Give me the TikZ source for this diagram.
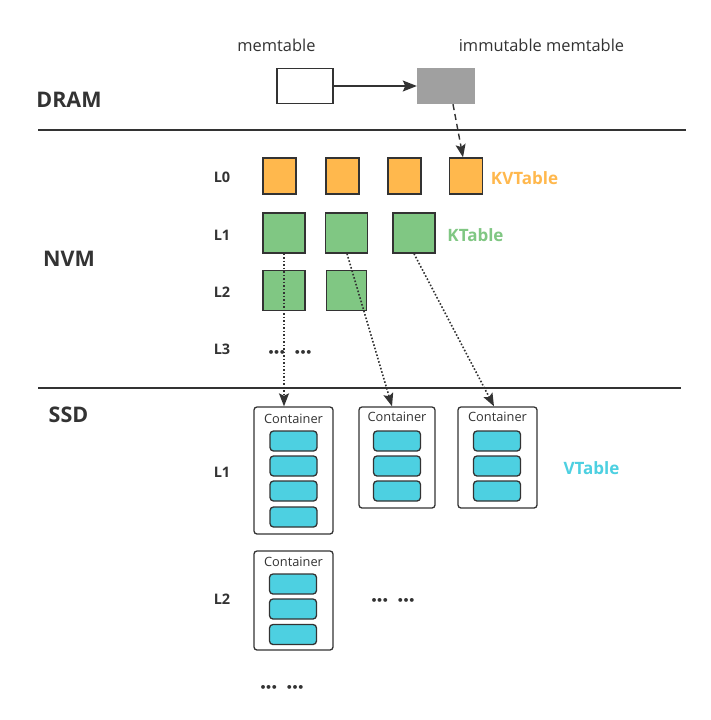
\documentclass[tikz,border=0pt]{standalone}
\usepackage{fontspec}
\setmainfont{Open Sans}
\newfontfamily\dotfont{DejaVu Sans}
\usetikzlibrary{arrows.meta,calc}
\definecolor{ink}{HTML}{333333}
\definecolor{kvorange}{HTML}{FFB84D}
\definecolor{kgreen}{HTML}{80C783}
\definecolor{vcyan}{HTML}{4DD0E1}
\definecolor{memgray}{HTML}{A0A0A0}
\tikzset{
  tier/.style={font=\fontsize{21.5}{23}\selectfont\bfseries, text=ink},
  lvl/.style={font=\fontsize{14.5}{16}\selectfont\bfseries, text=ink},
  captext/.style={font=\fontsize{16.4}{18}\selectfont, text=ink},
  kvbox/.style={draw=ink, line width=1.4pt, fill=kvorange, minimum width=33pt, minimum height=36pt, inner sep=0pt},
  kbox/.style={draw=ink, line width=1.4pt, fill=kgreen, minimum width=42pt, minimum height=40pt, inner sep=0pt},
  cont/.style={draw=ink, line width=1.3pt, fill=white, rounded corners=3pt, inner sep=0pt},
  vblk/.style={draw=ink, line width=1.3pt, fill=vcyan, rounded corners=3.5pt, minimum width=47pt, minimum height=20pt, inner sep=0pt},
  ctext/.style={font=\fontsize{12.8}{14}\selectfont, text=ink},
  dotstext/.style={font=\dotfont\bfseries\fontsize{11}{12}\selectfont, text=ink},
  sep/.style={draw=ink, line width=1.5pt},
  solidarrow/.style={draw=ink, line width=1.4pt, -{Stealth[length=14pt,width=11pt,inset=2.5pt]}},
  dasharrow/.style={draw=ink, line width=1.4pt, dash pattern=on 6pt off 4pt, -{Stealth[length=13pt,width=10pt,inset=2.5pt]}},
  dotarrow/.style={draw=ink, line width=1.6pt, dash pattern=on 1.6pt off 1.9pt, -{Stealth[length=13pt,width=10pt,inset=2.5pt]}},
  lbl/.style={font=\fontsize{17}{19}\selectfont\bfseries}
}
\newcommand{\dotsrow}{•\kern-1.3pt•\kern-1.3pt•\hspace{8pt}•\kern-1.3pt•\kern-1.3pt•}
\begin{document}
\begin{tikzpicture}[x=1pt,y=-1pt]
\useasboundingbox[fill=white] (0,0) rectangle (711,720);

% separators
\coordinate (s1a) at (38,130); \coordinate (s1b) at (686,130);
\coordinate (s2a) at (38,388); \coordinate (s2b) at (681,388);
\draw[sep] (s1a) -- (s1b);
\draw[sep] (s2a) -- (s2b);

% tier labels
\node[tier] (dram) at (69,100) {DRAM};
\node[tier] (nvm) at (69,259) {NVM};
\node[tier] (ssd) at (68.5,415) {SSD};

% DRAM
\node[captext] (memlbl) at (276.5,45) {memtable};
\node[captext] (immlbl) at (541.5,45) {immutable memtable};
\node[draw=ink, line width=1.4pt, fill=white, minimum width=56pt, minimum height=35pt, inner sep=0pt] (mem) at (305,86) {};
\node[fill=memgray, minimum width=58pt, minimum height=36pt, inner sep=0pt] (imm) at (446,86) {};
\draw[solidarrow] (mem.east) -- (imm.west);

% NVM level labels
\node[lvl] (nl0) at (222,177) {L0};
\node[lvl] (nl1) at (222,235) {L1};
\node[lvl] (nl2) at (222,292) {L2};
\node[lvl] (nl3) at (222,349) {L3};

% L0
\node[kvbox] (a1) at (279.5,176) {};
\node[kvbox] (a2) at (342.5,176) {};
\node[kvbox] (a3) at (404.5,176) {};
\node[kvbox] (a4) at (466,176) {};
\node[lbl, text=kvorange] (kvt) at (524.5,178) {KVTable};

% L1
\node[kbox] (b1) at (284,233) {};
\node[kbox] (b2) at (346.5,233) {};
\node[kbox] (b3) at (414,233) {};
\node[lbl, text=kgreen] (kt) at (475.5,235) {KTable};

% L2
\node[kbox] (c1) at (284,290.5) {};
\node[kbox, minimum width=40pt] (c2) at (346.5,290.5) {};

% L3
\node[dotstext] (d3) at (290,353) {\dotsrow};

\draw[dasharrow] (imm.south) ++(7,0) -- ($(a4.north)+(-3,0)$);

% SSD level labels
\node[lvl] (sl1) at (222,472) {L1};
\node[lvl] (sl2) at (222,599) {L2};

% containers
\node[cont, minimum width=79pt, minimum height=127pt] (k1) at (293.5,470.5) {};
\node[ctext] at (293.5,419) {Container};
\foreach \yy [count=\i] in {441,466,491,517} \node[vblk] (k1v\i) at (293.5,\yy) {};

\node[cont, minimum width=76pt, minimum height=101pt] (k2) at (397,457.5) {};
\node[ctext] at (397,417) {Container};
\foreach \yy [count=\i] in {441,466,491} \node[vblk] (k2v\i) at (397,\yy) {};

\node[cont, minimum width=79pt, minimum height=101pt] (k3) at (497.5,457.5) {};
\node[ctext] at (497.5,417) {Container};
\foreach \yy [count=\i] in {441,466,491} \node[vblk] (k3v\i) at (497,\yy) {};

\node[lbl, text=vcyan] (vt) at (591.5,468) {VTable};

\node[cont, minimum width=79pt, minimum height=99pt] (k4) at (293.5,600.5) {};
\node[ctext] at (293.5,562) {Container};
\foreach \yy [count=\i] in {584,609,634.5} \node[vblk] (k4v\i) at (293,\yy) {};

\node[dotstext] (d4) at (393,601) {\dotsrow};
\node[dotstext] (d5) at (282,688) {\dotsrow};

% dotted arrows
\draw[dotarrow] (b1.south) -- (b1.south |- k1.north);
\draw[dotarrow] ($(b2.south)+(0.5,0)$) -- ($(k2.north)+(-5,0)$);
\draw[dotarrow] (b3.south) -- ($(k3.north)+(-3.5,0)$);
\end{tikzpicture}
\end{document}
